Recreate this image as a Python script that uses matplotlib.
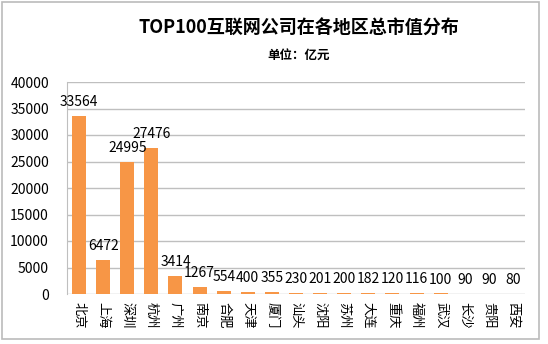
import matplotlib
matplotlib.use("Agg")
import matplotlib.pyplot as plt
from matplotlib.patches import Rectangle

plt.rcParams['font.family'] = ['Noto Sans CJK SC', 'DejaVu Sans']

cities = ["北京", "上海", "深圳", "杭州", "广州", "南京", "合肥", "天津", "厦门", "汕头",
          "沈阳", "苏州", "大连", "重庆", "福州", "武汉", "长沙", "贵阳", "西安"]
values = [33564, 6472, 24995, 27476, 3414, 1267, 554, 400, 355, 230,
          201, 200, 182, 120, 116, 100, 90, 90, 80]
yticks = [0, 5000, 10000, 15000, 20000, 25000, 30000, 35000, 40000]

fig = plt.figure(figsize=(5.48, 3.44), dpi=100)
ax = fig.add_axes([67 / 548, 1 - 294 / 344, 458 / 548, 212 / 344])

x = range(len(cities))
ax.bar(x, values, width=0.58, color='#F79646', zorder=3)
for xi, v in zip(x, values):
    ax.annotate(str(v), (xi, v), xytext=(0, 5), textcoords='offset points',
                ha='center', va='bottom', fontsize=10, zorder=4)

ax.set_xlim(-0.5, len(cities) - 0.5)
ax.set_ylim(0, 40000)
ax.set_yticks(yticks)
ax.set_yticklabels([str(t) for t in yticks], fontsize=10)
ax.set_xticks(list(x))
ax.set_xticklabels(cities, rotation=-90, fontsize=9.5)
ax.tick_params(axis='x', length=0, pad=6)
ax.tick_params(axis='y', length=0, pad=13)
ax.grid(axis='y', color='#BFBFBF', linewidth=1, zorder=0)
for s in ['top', 'right', 'bottom']:
    ax.spines[s].set_visible(False)
ax.spines['left'].set_color('#BFBFBF')

fig.text(299 / 548, 1 - 28 / 344, "TOP100互联网公司在各地区总市值分布", ha='center', va='center',
         fontsize=13, fontweight='bold')
fig.text(299 / 548, 1 - 55 / 344, "单位：亿元", ha='center', va='center',
         fontsize=9, fontweight='bold')

fig.patches.append(Rectangle((2 / 548, 1 - 339 / 344), 537 / 548, 337 / 344,
                             transform=fig.transFigure, fill=False,
                             edgecolor='#BBBBBB', linewidth=1.2))

fig.savefig('out.png', dpi=100)
